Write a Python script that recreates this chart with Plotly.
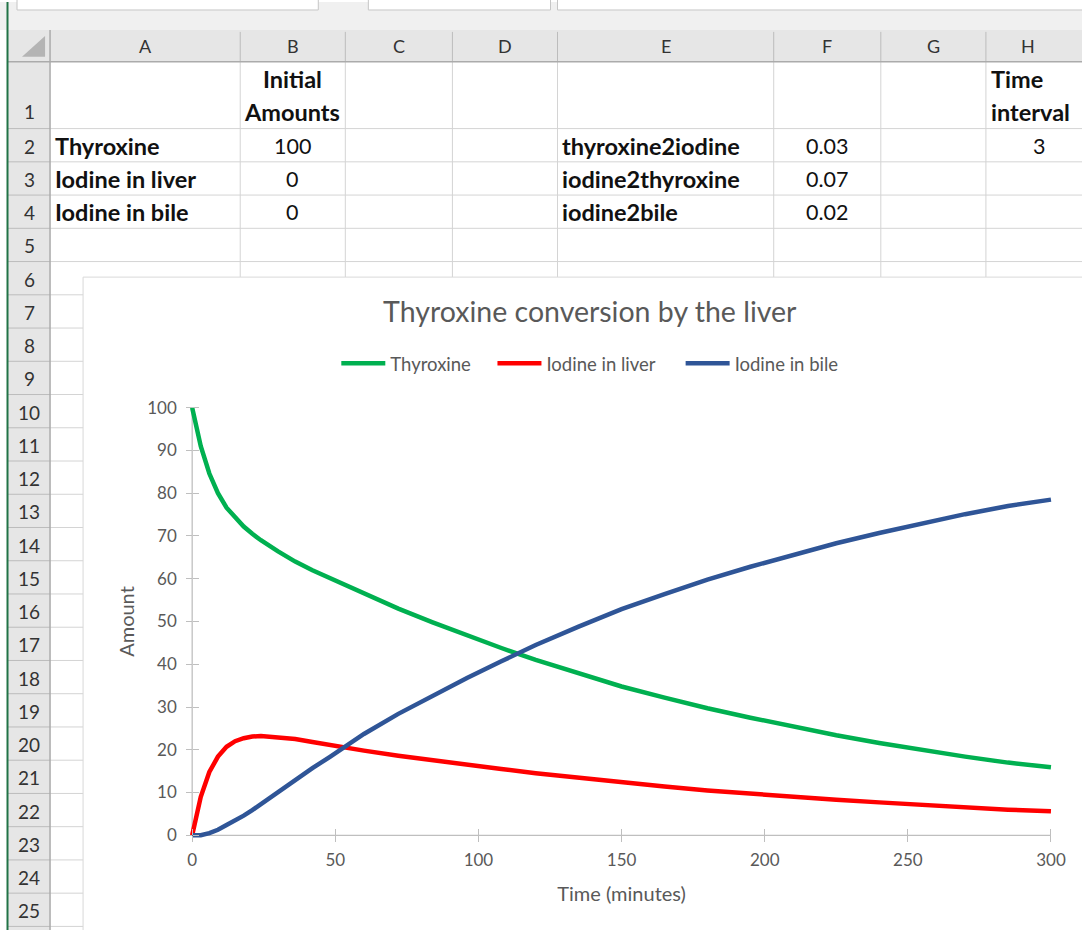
import plotly.graph_objects as go

W, H = 1082, 930          # target picture size (design coordinates)
FIG_W, FIG_H = 1089, 930  # figure size (compensates the horizontal squeeze seen in the render)

# ---------------- chart data ----------------
time_min = [0, 3, 6, 9, 12, 15, 18, 21, 24, 30, 36, 42, 48, 54, 60, 72, 84, 96, 108, 120,
            135, 150, 165, 180, 195, 210, 225, 240, 255, 270, 285, 300]
thyroxine = [100, 91.0, 84.6, 80.0, 76.6, 74.2, 72.2, 70.5, 69.0, 66.4, 64.0, 62.0, 60.2, 58.4, 56.5,
             53.0, 49.8, 46.7, 43.8, 41.0, 37.8, 34.8, 32.2, 29.7, 27.5, 25.4, 23.4, 21.6, 19.9,
             18.4, 17.0, 15.9]
iodine_liver = [0, 9.0, 14.8, 18.4, 20.7, 22.0, 22.7, 23.1, 23.2, 22.9, 22.5, 21.8, 21.1, 20.4, 19.8,
                18.6, 17.5, 16.5, 15.5, 14.5, 13.4, 12.3, 11.4, 10.5, 9.7, 9.0, 8.3, 7.7, 7.1,
                6.5, 6.0, 5.6]
iodine_bile = [0, 0, 0.5, 1.3, 2.4, 3.4, 4.6, 5.9, 7.3, 10.3, 13.0, 15.7, 18.3, 21.0, 23.7,
               28.4, 32.7, 36.8, 40.7, 44.5, 48.8, 52.9, 56.4, 59.8, 62.8, 65.6, 68.3, 70.7, 73.0,
               75.1, 77.0, 78.5]
series_names = ["Thyroxine", "Iodine in liver", "Iodine in bile"]
x_ticks = [0, 50, 100, 150, 200, 250, 300]
y_ticks = [0, 10, 20, 30, 40, 50, 60, 70, 80, 90, 100]

# ---------------- spreadsheet content ----------------
col_letters = ["A", "B", "C", "D", "E", "F", "G", "H"]
species = ["Thyroxine", "Iodine in liver", "Iodine in bile"]
initial_amounts = [100, 0, 0]
rate_names = ["thyroxine2iodine", "iodine2thyroxine", "iodine2bile"]
rate_values = ["0.03", "0.07", "0.02"]
time_interval = 3
row_numbers = list(range(1, 26))

# ---------------- geometry / style ----------------
col_edges = [50, 240, 345, 452, 557, 773, 880, 985, 1095]
hdr_top, hdr_bot = 28, 60
row_edges = [60, 127] + [127 + k * 33.35 for k in range(1, 25)]
GRID = "#d4d4d4"
HDR_BG = "#e6e6e6"
HDR_LINE = "#bcbcbc"
FONT = "Lato"
TXT = "#595959"


def px(x):
    return x / W


def py(y):
    return 1 - y / H


shapes = []
annotations = []


def rect(x0, y0, x1, y1, fill, line=None, lw=1):
    shapes.append(dict(type="rect", xref="paper", yref="paper", x0=px(x0), x1=px(x1),
                       y0=py(y1), y1=py(y0), fillcolor=fill,
                       line=dict(color=line or fill, width=lw if line else 0), layer="below"))


def hline(x0, x1, y, color, w=1):
    shapes.append(dict(type="line", xref="paper", yref="paper", x0=px(x0), x1=px(x1),
                       y0=py(y), y1=py(y), line=dict(color=color, width=w), layer="below"))


def vline(x, y0, y1, color, w=1):
    shapes.append(dict(type="line", xref="paper", yref="paper", x0=px(x), x1=px(x),
                       y0=py(y0), y1=py(y1), line=dict(color=color, width=w), layer="below"))


def text(x, y, s, anchor="center", size=19, bold=False, color="#111111"):
    annotations.append(dict(xref="paper", yref="paper", x=px(x), y=py(y), text=("<b>%s</b>" % s) if bold else s,
                            showarrow=False, xanchor=anchor, yanchor="middle",
                            font=dict(family=FONT, size=size, color=color)))


# top bar
rect(0, 0, 1095, hdr_top, "#f0f0f0")
rect(17, -3, 318, 8, "#ffffff", "#c6c6c6")
rect(368, -3, 550, 8, "#ffffff", "#c6c6c6")
rect(557, -3, 1095, 8, "#ffffff", "#c6c6c6")
# headers
rect(8, hdr_top, 1095, hdr_bot, HDR_BG)
rect(8, hdr_bot, 50, 940, HDR_BG)
# cell grid
for y in row_edges[1:]:
    hline(50, 1095, y, GRID)
for x in col_edges[1:-1]:
    vline(x, hdr_bot, 940, GRID)
# header separators
for x in col_edges[1:-1]:
    vline(x, hdr_top + 2, hdr_bot, HDR_LINE)
for y in row_edges[1:]:
    hline(8, 50, y, HDR_LINE)
hline(8, 1095, hdr_bot, "#ababab", 1.5)
vline(50, hdr_top, 940, "#ababab", 1.5)
# corner triangle
shapes.append(dict(type="path", xref="paper", yref="paper",
                   path="M %f %f L %f %f L %f %f Z" % (px(22), py(55), px(45), py(55), px(45), py(34)),
                   fillcolor="#b4b4b4", line=dict(width=0), layer="below"))
# green window edge
vline(7.5, 0, 940, "#217346", 2)

# chart area
rect(83, 276, 1100, 950, "#ffffff", "#d9d9d9", 1)

# column letters
for i, c in enumerate(col_letters):
    text((col_edges[i] + col_edges[i + 1]) / 2 if i < 7 else 1027, 44, c, size=18, color="#333333")
# row numbers
for r in row_numbers:
    if r == 1:
        yc = 110
    else:
        yc = (row_edges[r - 1] + row_edges[r]) / 2 + 1
    text(29, yc, str(r), size=19, color="#333333")

# cell contents
CELL = 23.5
NUM = 21.5
text(292, 77, "Initial", bold=True, size=CELL)
text(292, 110, "Amounts", bold=True, size=CELL)
text(988, 77, "Time", anchor="left", bold=True, size=CELL)
text(988, 110, "interval", anchor="left", bold=True, size=CELL)
for k in range(3):
    yc = (row_edges[k + 1] + row_edges[k + 2]) / 2 + 0.5
    text(53, yc, species[k], anchor="left", bold=True, size=CELL)
    text(292, yc, str(initial_amounts[k]), size=NUM)
    text(559, yc, rate_names[k], anchor="left", bold=True, size=CELL)
    text(826, yc, rate_values[k], size=NUM)
text(1038, (row_edges[1] + row_edges[2]) / 2 + 0.5, str(time_interval), size=NUM)

# ---------------- plot ----------------
X0, X1 = 192, 1050      # pixel of t=0 and t=300
Y0, Y1 = 836, 407       # pixel of 0 and 100
xr = [-3, 303]
yr = [-2, 102]
sx = (X1 - X0) / 300.0
sy = (Y0 - Y1) / 100.0
xd = [px(X0 + xr[0] * sx), px(X0 + xr[1] * sx)]
yd = [py(Y0 - yr[0] * sy), py(Y0 - yr[1] * sy)]

colors = ["#00b050", "#ff0000", "#2f5597"]
legend_ids = ["legend", "legend2", "legend3"]
legend_x = [336, 492, 680]
fig = go.Figure()
for name, vals, col, lg in zip(series_names, [thyroxine, iodine_liver, iodine_bile], colors, legend_ids):
    fig.add_trace(go.Scatter(x=time_min, y=vals, mode="lines", name=name, legend=lg,
                             line=dict(color=col, width=4.5)))

axis_col = "#bfbfbf"
shapes.append(dict(type="line", xref="x", yref="y", x0=0, x1=300, y0=0, y1=0,
                   line=dict(color=axis_col, width=1.3), layer="below"))
shapes.append(dict(type="line", xref="x", yref="y", x0=0, x1=0, y0=0, y1=100,
                   line=dict(color=axis_col, width=1.3), layer="below"))

tickfont = dict(family=FONT, size=17, color=TXT)
legfont = dict(family=FONT, size=18.5, color=TXT)
leg_common = dict(orientation="h", xanchor="left", yanchor="middle", y=py(363),
                  font=legfont, bgcolor="rgba(0,0,0,0)", itemwidth=44)
fig.update_layout(
    width=FIG_W, height=FIG_H, autosize=False,
    margin=dict(l=0, r=0, t=0, b=0),
    paper_bgcolor="#ffffff", plot_bgcolor="rgba(0,0,0,0)",
    shapes=shapes, annotations=annotations,
    title=dict(text="Thyroxine conversion by the liver", x=px(586), y=py(312),
               xanchor="center", yanchor="middle",
               font=dict(family=FONT, size=28.5, color=TXT)),
    legend=dict(x=px(legend_x[0]), **leg_common),
    legend2=dict(x=px(legend_x[1]), **leg_common),
    legend3=dict(x=px(legend_x[2]), **leg_common),
    xaxis=dict(domain=xd, range=xr, anchor="free", position=py(Y0), showline=False,
               showgrid=False, zeroline=False, tickvals=x_ticks, ticks="outside", ticklen=6,
               tickcolor=axis_col, tickwidth=1.3, tickfont=tickfont, ticklabelstandoff=3,
               title=dict(text="Time (minutes)", font=dict(family=FONT, size=20, color=TXT), standoff=18)),
    yaxis=dict(domain=yd, range=yr, anchor="free", position=px(X0), showline=False,
               showgrid=False, zeroline=False, tickvals=y_ticks, ticks="outside", ticklen=6,
               tickcolor=axis_col, tickwidth=1.3, tickfont=tickfont, ticklabelstandoff=6,
               title=dict(text="Amount", font=dict(family=FONT, size=20, color=TXT), standoff=6)),
    xaxis2=dict(overlaying="x", range=xr, anchor="free", position=py(Y0), showline=False,
                showgrid=False, zeroline=False, tickvals=x_ticks, ticks="inside", ticklen=6,
                tickcolor=axis_col, tickwidth=1.3, showticklabels=False),
    yaxis2=dict(overlaying="y", range=yr, anchor="free", position=px(X0), showline=False,
                showgrid=False, zeroline=False, tickvals=y_ticks, ticks="inside", ticklen=6,
                tickcolor=axis_col, tickwidth=1.3, showticklabels=False),
    showlegend=True,
)
fig.add_trace(go.Scatter(x=[0], y=[0], xaxis="x2", yaxis="y2", mode="lines",
                         showlegend=False, hoverinfo="skip", line=dict(width=0)))

fig.write_html("out.html", config={"displayModeBar": False},
               post_script="document.body.style.margin='0px';document.body.style.overflow='hidden';")
